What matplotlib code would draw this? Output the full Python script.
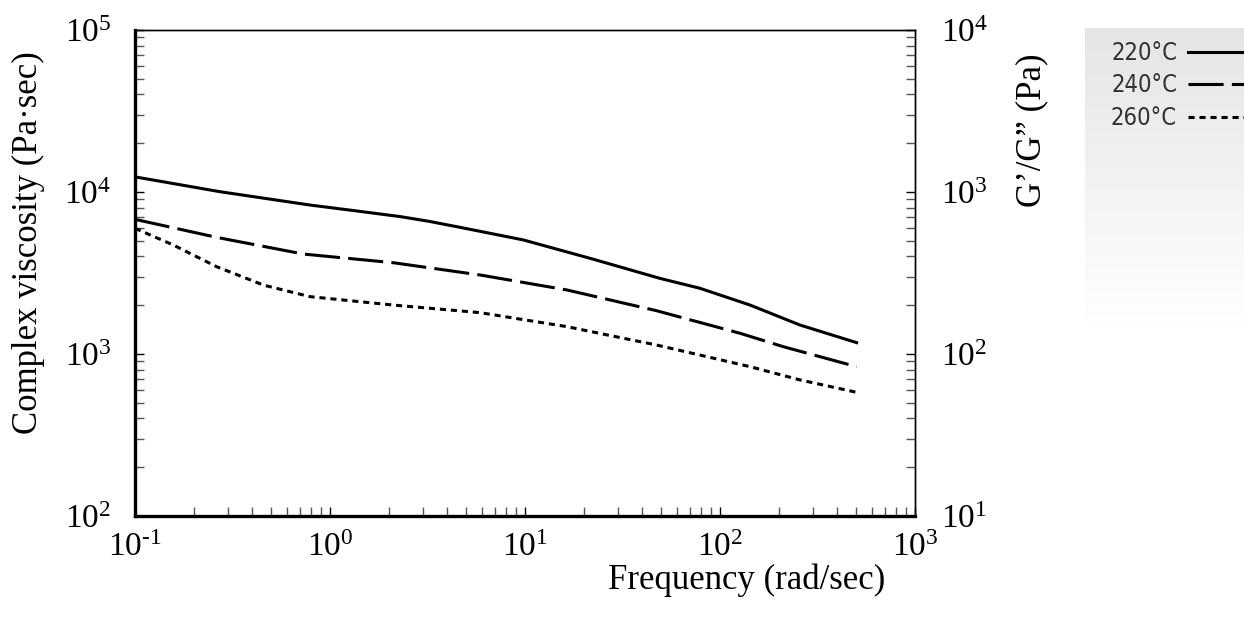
import numpy as np
import matplotlib
matplotlib.use("Agg")
import matplotlib.pyplot as plt
from matplotlib.lines import Line2D
from matplotlib.ticker import LogLocator, FuncFormatter, NullFormatter

plt.rcParams['font.family'] = ['Liberation Serif', 'DejaVu Serif']
plt.rcParams['mathtext.fontset'] = 'custom'
plt.rcParams['mathtext.rm'] = 'Liberation Serif'
plt.rcParams['mathtext.it'] = 'Liberation Serif:italic'

# Données (fréquence en rad/s, viscosité en Pa.s)
freq_220 = [0.1, 0.273, 0.789, 1.3, 2.29, 3.2, 4.46, 9.8, 21.5, 49.2, 78.9, 142.6, 257, 502]
visc_220 = [12400, 10040, 8310, 7700, 7050, 6600, 6110, 5060, 3900, 2930, 2545, 2005, 1510, 1175]

freq_240 = [0.1, 0.262, 0.73, 2.11, 5.88, 16.4, 47.3, 126.8, 211, 502]
visc_240 = [6780, 5250, 4140, 3660, 3075, 2485, 1850, 1342, 1110, 835]

freq_260 = [0.1, 0.157, 0.262, 0.455, 0.789, 2.11, 5.88, 16.4, 47.3, 142.6, 257, 502]
visc_260 = [5970, 4710, 3460, 2665, 2260, 2005, 1800, 1475, 1136, 835, 692, 580]

temps = ["220°C", "240°C", "260°C"]
styles = ['-', (0, (11.5, 2.7)), (0, (2.0, 1.6))]


def puissance(v, pos):
    e = int(round(np.log10(v)))
    if e < 0:
        return r'$10^{\text{-}%d}$' % (-e)
    return r'$10^{%d}$' % e


fig = plt.figure(figsize=(12.44, 6.2), dpi=100)
ax = fig.add_axes([135/1244, 104/620, 780/1244, 486/620])

lw = 2.2
for f, v, ls in zip([freq_220, freq_240, freq_260], [visc_220, visc_240, visc_260], styles):
    ax.plot(f, v, color='black', lw=lw, linestyle=ls,
            solid_joinstyle='round', dash_joinstyle='round')

ax.set_xscale('log')
ax.set_yscale('log')
ax.set_xlim(0.1, 1000)
ax.set_ylim(100, 1e5)

for a in ['left', 'bottom']:
    ax.spines[a].set_linewidth(2.4)
for a in ['top', 'right']:
    ax.spines[a].set_linewidth(1.0)

ax.xaxis.set_major_locator(LogLocator(base=10, numticks=10))
ax.xaxis.set_minor_locator(LogLocator(base=10, subs=np.arange(2, 10), numticks=20))
ax.yaxis.set_major_locator(LogLocator(base=10, numticks=10))
ax.yaxis.set_minor_locator(LogLocator(base=10, subs=np.arange(2, 10), numticks=20))
ax.xaxis.set_major_formatter(FuncFormatter(puissance))
ax.yaxis.set_major_formatter(FuncFormatter(puissance))
ax.xaxis.set_minor_formatter(NullFormatter())
ax.yaxis.set_minor_formatter(NullFormatter())

ax.tick_params(axis='both', which='both', direction='in', length=6.5, width=1.0,
               labelsize=24, colors='black')
ax.tick_params(axis='both', which='minor', color='#555555')
ax.tick_params(axis='x', which='both', top=False, pad=12)
ax.tick_params(axis='y', which='both', right=False, pad=17)

# axe de droite G'/G''
ax2 = ax.twinx()
ax2.set_yscale('log')
ax2.set_ylim(10, 1e4)
ax2.yaxis.set_major_locator(LogLocator(base=10, numticks=10))
ax2.yaxis.set_minor_locator(LogLocator(base=10, subs=np.arange(2, 10), numticks=20))
ax2.yaxis.set_major_formatter(FuncFormatter(puissance))
ax2.yaxis.set_minor_formatter(NullFormatter())
ax2.tick_params(axis='y', which='both', direction='in', length=6.5, width=1.0,
                labelsize=24, pad=19)
ax2.tick_params(axis='y', which='minor', color='#555555')
for a in ['left', 'bottom']:
    ax2.spines[a].set_visible(False)
ax2.spines['right'].set_linewidth(1.0)
ax2.spines['top'].set_linewidth(1.0)

fig.text(885/1244, 1 - 580/620, "Frequency (rad/sec)", ha='right', va='center', fontsize=25)
fig.text(28/1244, 1 - 243/620, "Complex viscosity (Pa·sec)", ha='center', va='center',
         rotation=90, fontsize=25)
fig.text(1032/1244, 1 - 130/620, "G\u2019/G\u201d (Pa)", ha='center', va='center',
         rotation=90, fontsize=25)

# légende sur fond dégradé
lax = fig.add_axes([1085/1244, 1 - 327/620, (1244 - 1085)/1244, (327 - 28)/620])
grad = np.linspace(0, 1, 256).reshape(-1, 1)
lax.imshow(grad, aspect='auto', cmap=matplotlib.colors.LinearSegmentedColormap.from_list(
    'g', ['#e4e5e7', '#ffffff']), extent=[0, 1, 0, 1], origin='upper')
lax.set_axis_off()

handles = [Line2D([], [], color='black', lw=lw, linestyle=ls) for ls in styles]
leg = fig.legend(handles, temps, loc='upper left', bbox_to_anchor=(1111/1244, 1 - 41/620),
                 frameon=False, markerfirst=False, handlelength=3.0, handletextpad=0.45,
                 labelspacing=0.36, borderpad=0, borderaxespad=0,
                 prop={'family': 'DejaVu Sans', 'stretch': 'condensed', 'size': 17})
for t in leg.get_texts():
    t.set_color('#333333')

fig.savefig("out.png", dpi=100)
